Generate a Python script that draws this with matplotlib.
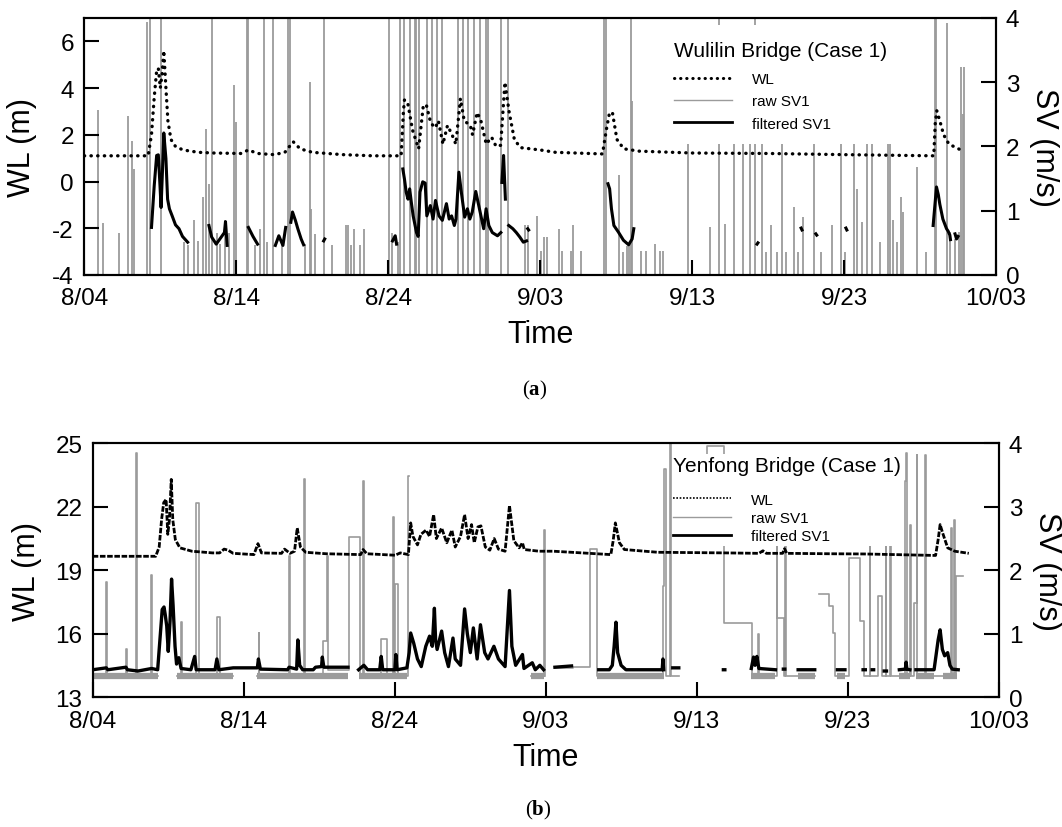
import numpy as np
import matplotlib.pyplot as plt
from matplotlib.patches import Rectangle
from matplotlib.lines import Line2D

plt.rcParams['font.family'] = ['Liberation Sans', 'DejaVu Sans']
plt.rcParams['axes.unicode_minus'] = False
plt.rcParams['mathtext.fontset'] = 'custom'
plt.rcParams['mathtext.rm'] = 'Liberation Serif'
plt.rcParams['mathtext.bf'] = 'Liberation Serif:bold'

nan = np.nan

# x axis in days after 8/04
tick_days = [0, 10, 20, 30, 40, 50, 60]
tick_labels = ['8/04', '8/14', '8/24', '9/03', '9/13', '9/23', '10/03']

# ---------------- (a) Wulilin Bridge ----------------
wl_a = [(0, 1.1), (4.2, 1.1), (4.42, 2.0), (4.6, 3.6), (4.76, 4.75), (4.87, 4.85), (5.0, 4.0),
        (5.12, 4.6), (5.23, 5.6), (5.37, 4.0), (5.5, 2.6), (5.7, 1.8), (6.0, 1.5), (6.5, 1.35),
        (7.5, 1.25), (8.5, 1.22), (10.3, 1.2), (10.8, 1.35), (11.4, 1.2), (12.5, 1.15), (13.2, 1.25),
        (13.5, 1.5), (13.75, 1.7), (14.2, 1.4), (15.0, 1.25), (17.0, 1.15), (19.0, 1.1), (20.85, 1.1),
        (21.0, 3.0), (21.07, 3.5), (21.3, 3.3), (21.6, 2.2), (22.0, 1.4), (22.3, 3.2), (22.5, 3.3),
        (22.8, 2.5), (23.1, 2.3), (23.3, 2.6), (23.6, 1.6), (23.9, 2.4), (24.2, 2.0), (24.45, 1.6),
        (24.75, 3.55), (25.0, 2.6), (25.4, 2.4), (25.55, 2.0), (25.85, 2.95), (26.1, 2.6), (26.45, 1.6),
        (26.8, 1.9), (27.1, 1.5), (27.4, 1.55), (27.68, 4.25), (27.95, 3.0), (28.3, 1.8), (28.7, 1.45),
        (30.0, 1.35), (31.0, 1.25), (34.1, 1.18), (34.35, 2.2), (34.55, 2.9), (34.75, 2.97), (35.05, 1.8),
        (35.5, 1.4), (36.5, 1.3), (40.0, 1.22), (45.0, 1.2), (50.0, 1.15), (55.9, 1.1), (56.0, 2.5),
        (56.1, 3.03), (56.3, 2.6), (56.55, 2.0), (56.9, 1.6), (57.9, 1.28)]

filt_a = [(4.42, 0.74), (4.6, 1.39), (4.76, 1.86), (4.87, 1.87), (4.98, 1.39), (5.05, 1.05), (5.14, 1.6),
          (5.23, 2.21), (5.37, 1.81), (5.48, 1.18), (5.6, 1.03), (5.78, 0.92), (6.0, 0.78), (6.23, 0.72),
          (6.46, 0.6), (6.8, 0.51), (nan, nan),
          (8.2, 0.77), (8.38, 0.59), (8.68, 0.48), (8.95, 0.57), (9.22, 0.66), (9.29, 0.83), (9.4, 0.46), (nan, nan),
          (10.8, 0.74), (11.1, 0.6), (11.4, 0.48), (nan, nan),
          (12.57, 0.46), (12.8, 0.61), (13.07, 0.46), (13.25, 0.74), (nan, nan),
          (13.59, 0.82), (13.7, 0.98), (13.89, 0.85), (14.05, 0.72), (14.27, 0.56), (14.43, 0.47), (nan, nan),
          (15.75, 0.53), (15.82, 0.56), (nan, nan),
          (20.28, 0.53), (20.46, 0.61), (20.55, 0.48), (nan, nan),
          (20.96, 1.65), (21.07, 1.49), (21.18, 1.29), (21.3, 1.18), (21.41, 1.34), (21.52, 1.13), (21.64, 0.92),
          (21.86, 0.66), (21.97, 0.6), (22.09, 1.29), (22.27, 1.45), (22.43, 1.43), (22.54, 0.92), (22.77, 1.08),
          (22.95, 0.87), (23.11, 1.16), (23.34, 0.92), (23.56, 0.85), (23.83, 1.11), (24.01, 0.87), (24.17, 0.92),
          (24.35, 0.77), (24.46, 0.87), (24.65, 1.6), (24.81, 1.29), (25.03, 0.9), (25.21, 1.03), (25.37, 0.87),
          (25.53, 0.98), (25.76, 1.3), (26.05, 0.98), (26.28, 0.72), (26.44, 1.03), (26.62, 0.77), (26.85, 0.66),
          (27.19, 0.61), (27.41, 0.66), (nan, nan),
          (27.48, 1.44), (27.59, 1.86), (27.71, 1.18), (nan, nan),
          (27.93, 0.77), (28.2, 0.72), (28.43, 0.66), (28.66, 0.59), (28.89, 0.51), (29.1, 0.53), (nan, nan),
          (29.18, 0.72), (29.24, 0.7), (nan, nan),
          (34.46, 1.42), (34.57, 1.34), (34.69, 1.03), (34.85, 0.77), (35.14, 0.67), (35.48, 0.54), (35.82, 0.47),
          (36.05, 0.56), (36.16, 0.72), (nan, nan),
          (44.27, 0.48), (44.33, 0.5), (nan, nan), (47.17, 0.73), (47.23, 0.7), (nan, nan),
          (48.14, 0.64), (48.2, 0.62), (nan, nan), (50.12, 0.73), (50.18, 0.7), (nan, nan),
          (55.86, 0.77), (56.08, 1.37), (56.2, 1.25), (56.3, 1.1), (56.5, 0.87), (56.74, 0.72), (56.85, 0.68),
          (56.96, 0.62), (57.0, 0.55), (nan, nan),
          (57.3, 0.64), (57.4, 0.56), (57.5, 0.6)]

# raw SV1 spikes (day, peak value); values above 4 run off the top
raw_a = [(0.91, 2.56), (1.25, 0.81), (2.27, 0.66), (2.88, 2.47), (3.13, 2.09), (3.24, 1.65), (4.15, 3.93),
         (4.31, 4.5), (5.05, 4.5), (6.57, 0.51), (6.8, 0.46), (7.25, 0.85), (7.48, 0.53), (7.82, 1.21),
         (8.0, 2.27), (8.22, 1.42), (8.38, 4.5), (8.72, 0.66), (8.95, 0.48), (9.29, 0.85), (9.51, 0.66),
         (9.86, 2.95), (9.97, 2.38), (10.72, 4.5), (10.8, 4.5), (11.21, 0.46), (11.55, 0.72), (11.85, 4.5),
         (12.0, 0.51), (12.42, 4.5), (13.03, 0.51), (13.43, 4.5), (13.55, 4.5), (14.5, 0.48), (14.84, 3.0),
         (14.95, 1.03), (15.18, 0.64), (15.75, 4.5), (16.31, 0.46), (17.22, 0.77), (17.33, 0.77),
         (17.56, 0.46), (17.78, 0.72), (18.12, 0.46), (18.42, 0.72), (20.05, 4.5), (20.28, 0.66),
         (20.62, 0.51), (20.78, 4.5), (21.07, 4.5), (21.41, 4.5), (21.75, 4.5), (21.86, 4.5), (22.04, 4.5),
         (22.55, 4.5), (22.89, 4.5), (23.23, 4.5), (23.56, 4.5), (24.58, 4.5), (24.92, 4.5), (25.26, 4.5),
         (25.67, 4.5), (26.01, 4.5), (26.46, 4.5), (26.57, 4.5), (27.41, 4.5), (27.87, 4.5), (29.0, 0.77),
         (29.23, 0.77), (29.8, 0.92), (30.07, 0.38), (30.25, 0.59), (30.48, 0.59), (31.21, 0.72),
         (31.46, 0.38), (32.03, 0.38), (32.19, 0.78), (32.71, 0.38), (34.19, 4.5), (34.35, 4.5),
         (35.21, 1.55), (35.48, 0.35), (35.7, 0.45), (35.85, 0.5), (35.98, 4.5), (36.05, 2.7), (36.62, 0.38),
         (36.96, 0.38), (37.58, 0.48), (37.87, 0.38), (38.1, 0.38), (39.76, 3.5), (41.17, 0.74),
         (41.74, 4.5), (42.19, 0.8), (42.76, 3.5), (43.33, 3.5), (43.78, 3.5), (44.13, 4.5), (44.58, 3.5),
         (44.85, 0.35), (45.22, 0.77), (45.6, 0.35), (45.94, 3.5), (46.17, 0.35), (46.7, 1.06), (46.97, 0.35),
         (47.31, 0.9), (48.0, 3.5), (48.45, 0.35), (49.2, 0.78), (49.81, 3.5), (50.08, 0.35), (50.67, 3.5),
         (50.83, 1.34), (51.17, 0.82), (51.52, 3.5), (51.86, 3.5), (52.38, 0.51), (52.88, 3.5), (52.99, 3.5),
         (53.22, 0.85), (53.45, 0.51), (53.72, 1.21), (53.9, 0.98), (54.77, 1.68), (55.38, 0.35),
         (55.95, 4.5), (56.07, 4.5), (56.75, 3.92), (56.97, 0.67), (57.3, 0.56), (57.54, 0.67),
         (57.72, 3.24), (57.84, 2.5), (57.88, 3.24)]

# ---------------- (b) Yenfong Bridge ----------------
wl_b = [(0, 19.66), (4.17, 19.66), (4.4, 20.1), (4.56, 21.4), (4.7, 22.2), (4.86, 22.35), (4.97, 20.7),
        (5.08, 21.4), (5.2, 23.3), (5.3, 21.4), (5.47, 20.45), (5.77, 20.06), (6.57, 19.9), (7.93, 19.82),
        (8.4, 19.82), (8.7, 20.0), (8.96, 19.95), (9.3, 19.8), (10.67, 19.74), (10.94, 20.26), (11.17, 19.82),
        (12.5, 19.8), (12.7, 20.0), (13.06, 19.8), (13.36, 19.9), (13.54, 21.0), (13.75, 20.1), (14.1, 19.85),
        (15.46, 19.78), (17.74, 19.74), (17.9, 19.98), (18.15, 19.78), (20.02, 19.71), (20.36, 19.82),
        (20.9, 19.74), (21.05, 21.24), (21.2, 20.6), (21.5, 20.2), (21.73, 20.7), (22.07, 20.9), (22.3, 20.6),
        (22.57, 21.63), (22.75, 20.5), (23.1, 21.0), (23.44, 20.3), (23.78, 20.9), (24.0, 20.1), (24.35, 20.6),
        (24.62, 21.63), (24.85, 20.5), (25.08, 21.16), (25.26, 20.3), (25.5, 21.05), (25.7, 21.1), (25.99, 20.1),
        (26.29, 19.95), (26.58, 20.5), (26.86, 20.0), (27.3, 19.9), (27.59, 22.06), (27.88, 20.4), (28.23, 20.06),
        (28.45, 20.3), (28.57, 19.98), (29.55, 19.9), (30.5, 19.9), (34.3, 19.74), (34.45, 20.37), (34.6, 21.24),
        (34.87, 20.3), (35.2, 19.98), (37.4, 19.85), (41.96, 19.82), (44.1, 19.8), (44.37, 19.92), (44.6, 19.8),
        (45.67, 19.8), (45.8, 20.02), (45.95, 19.8), (48.8, 19.78), (51.1, 19.77), (55.8, 19.7), (55.97, 20.45),
        (56.1, 21.16), (56.27, 20.76), (56.6, 20.06), (57.07, 19.9), (58.0, 19.8)]

filt_b = [(0, 0.43), (0.9, 0.46), (1.0, 0.43), (2.2, 0.47), (2.3, 0.43), (3.0, 0.41), (3.9, 0.45), (4.3, 0.43),
          (4.45, 0.9), (4.6, 1.38), (4.72, 1.42), (4.8, 1.3), (4.9, 1.12), (5.0, 0.72), (5.12, 1.2), (5.22, 1.86),
          (5.32, 1.45), (5.45, 0.8), (5.55, 0.52), (5.7, 0.62), (5.85, 0.45), (6.5, 0.43), (6.75, 0.64),
          (6.85, 0.43), (8.1, 0.43), (8.22, 0.6), (8.35, 0.43), (9.3, 0.46), (10.9, 0.46), (10.97, 0.6),
          (11.1, 0.44), (12.9, 0.43), (13.0, 0.47), (13.5, 0.44), (13.58, 0.9), (13.7, 0.5), (13.9, 0.43),
          (14.6, 0.43), (14.75, 0.47), (15.15, 0.48), (15.2, 0.63), (15.3, 0.47), (16.9, 0.47), (nan, nan),
          (17.6, 0.43), (17.95, 0.5), (18.2, 0.43), (19.0, 0.43), (19.1, 0.64), (19.2, 0.43), (20.0, 0.43),
          (20.07, 0.67), (20.15, 0.43), (20.8, 0.46), (20.95, 0.7), (21.05, 1.01), (21.25, 0.85), (21.5, 0.6),
          (21.75, 0.48), (22.05, 0.8), (22.3, 0.96), (22.48, 0.8), (22.62, 1.4), (22.7, 0.9), (22.8, 0.75),
          (23.1, 1.04), (23.3, 0.7), (23.55, 0.48), (23.85, 0.93), (24.0, 0.6), (24.35, 0.5), (24.62, 1.39),
          (24.8, 1.0), (25.0, 0.7), (25.2, 1.09), (25.45, 0.6), (25.67, 1.14), (25.95, 0.7), (26.17, 0.6),
          (26.56, 0.8), (26.86, 0.6), (27.3, 0.48), (27.59, 1.68), (27.75, 0.8), (28.0, 0.5), (28.45, 0.67),
          (28.55, 0.45), (29.1, 0.54), (29.3, 0.43), (29.6, 0.5), (29.85, 0.43), (nan, nan),
          (30.6, 0.47), (31.7, 0.49), (nan, nan),
          (33.5, 0.43), (34.2, 0.43), (34.4, 0.5), (34.52, 0.8), (34.64, 1.18), (34.75, 0.7), (34.98, 0.5),
          (35.3, 0.43), (37.7, 0.43), (37.75, 0.6), (37.8, 0.43), (nan, nan),
          (38.4, 0.46), (38.8, 0.46), (nan, nan), (41.75, 0.43), (41.85, 0.43), (nan, nan),
          (43.6, 0.45), (43.75, 0.63), (43.85, 0.5), (43.97, 0.64), (44.1, 0.45), (45.2, 0.43), (nan, nan),
          (45.72, 0.44), (45.82, 0.44), (nan, nan), (46.7, 0.43), (47.8, 0.43), (nan, nan),
          (49.3, 0.43), (49.8, 0.43), (nan, nan), (51.0, 0.43), (51.15, 0.43), (nan, nan),
          (51.6, 0.43), (51.7, 0.43), (nan, nan), (52.4, 0.41), (52.55, 0.41), (nan, nan),
          (53.4, 0.43), (53.8, 0.44), (53.85, 0.55), (53.9, 0.44), (54.1, 0.43), (nan, nan),
          (54.5, 0.43), (55.7, 0.43), (55.8, 0.6), (55.97, 0.9), (56.1, 1.06), (56.25, 0.75), (56.4, 0.65),
          (56.6, 0.7), (56.75, 0.5), (56.9, 0.44), (57.3, 0.43)]

# raw SV1, read as a held (step) signal: (day, value from that day on)
raw_b = [(0, 0.33), (0.86, 1.81), (0.92, 0.33), (2.22, 0.76), (2.28, 0.33), (2.88, 3.85), (2.94, 0.33),
         (3.88, 1.92), (3.94, 0.33), (4.3, nan), (5.6, 0.33), (5.87, 1.18), (5.93, 0.33), (6.84, 3.06),
         (7.06, 0.33), (8.21, 1.27), (8.43, 0.33), (9.3, nan), (10.9, 0.33), (10.98, 1.01), (11.04, 0.33),
         (12.98, 2.23), (13.04, 0.33), (13.98, 3.44), (14.04, 0.33), (15.23, 0.88), (15.54, 2.23),
         (15.6, 0.43), (16.95, 2.52), (17.7, 0.33), (17.9, 3.41), (17.96, 0.33), (19.1, 0.91), (19.5, 0.33),
         (19.88, 2.84), (19.94, 0.33), (20.02, 1.78), (20.2, 0.33), (20.9, 3.49), (20.96, nan), (29.0, 0.33),
         (29.88, 2.64), (29.93, 0.33), (29.95, nan), (30.6, 0.45), (31.8, 0.47), (32.9, 2.33), (33.4, 0.33),
         (37.77, 1.75), (37.85, 3.59), (37.92, 0.33), (38.2, 4.5), (38.26, 0.33), (38.8, nan), (39.05, 3.0),
         (40.66, 3.96), (41.8, 1.17), (43.64, 0.33), (44.05, 0.99), (44.11, 0.33), (45.28, 3.0), (45.32, 1.25),
         (45.74, 0.33), (45.85, 3.0), (45.9, 0.33), (47.83, nan), (48.06, 1.63), (48.72, 1.43), (49.0, 1.01),
         (49.16, 0.33), (50.1, 2.2), (50.8, 1.2), (51.04, 0.33), (51.43, 3.0), (51.48, 0.33), (52.0, 1.59),
         (52.25, 0.33), (52.5, 3.0), (52.55, 0.33), (52.8, 3.0), (52.85, 0.33), (53.8, 3.41), (53.86, 3.85),
         (53.92, 0.33), (54.1, 2.72), (54.16, 0.33), (54.35, 1.49), (54.55, 3.82), (54.6, 0.33), (55.12, 3.82),
         (55.18, 0.33), (56.82, 2.67), (56.88, 0.33), (57.05, 2.8), (57.1, 0.33), (57.17, 1.91), (57.6, 1.91)]

# stretches where the noisy raw record shows as a grey band under the filtered line
band_b = [(0, 4.3), (5.6, 9.3), (10.9, 16.9), (17.6, 20.8), (29.0, 29.85), (33.4, 37.8), (43.6, 45.2),
          (46.7, 47.8), (49.3, 49.8), (53.4, 54.1), (54.5, 55.7), (56.3, 57.2)]


def xy(pairs):
    a = np.array(pairs, dtype=float)
    return a[:, 0], a[:, 1]


GRAY = '#9b9b9b'

fig = plt.figure(figsize=(10.62, 8.28), dpi=100)


def make_panel(rect, wl_lim, wl_ticks):
    ax1 = fig.add_axes(rect)
    ax2 = ax1.twinx()
    ax1.set_zorder(ax2.get_zorder() + 1)
    ax1.patch.set_visible(False)
    ax1.set_xlim(0, 60)
    ax1.set_ylim(*wl_lim)
    ax1.set_yticks(wl_ticks)
    ax1.set_xticks(tick_days)
    ax1.set_xticklabels(tick_labels)
    ax2.set_ylim(0, 4)
    ax2.set_yticks([0, 1, 2, 3, 4])
    for ax in (ax1, ax2):
        ax.tick_params(direction='in', length=10.5, width=1.5, labelsize=17.5)
        for s in ax.spines.values():
            s.set_linewidth(1.5)
    ax1.tick_params(axis='x', pad=9)
    ax1.tick_params(axis='y', pad=7.5)
    ax2.tick_params(axis='y', pad=7)
    ax1.set_xlabel('Time', fontsize=22, va='center')
    ax1.set_ylabel('WL (m)', fontsize=22, va='center')
    ax2.set_ylabel('SV (m/s)', fontsize=22, rotation=270, va='center')
    return ax1, ax2


def add_key(ax, handles, title, x, title_y, top, spacing):
    ax.text(x, title_y, title, transform=ax.transAxes, fontsize=15, ha='left', va='center', zorder=6)
    ax.legend(handles, ['WL', 'raw SV1', 'filtered SV1'], loc='upper left', bbox_to_anchor=(x, top),
              frameon=False, fontsize=11, handlelength=3.8, handletextpad=1.3, labelspacing=spacing,
              borderpad=0, borderaxespad=0)


# ---- panel (a)
a1, a2 = make_panel([0.0794, 0.6667, 0.8585, 0.3104], (-4, 7), [-4, -2, 0, 2, 4, 6])
d, v = xy(raw_a)
a2.vlines(d, 0, v, color=GRAY, lw=1.3, zorder=1)
d, v = xy(filt_a)
a2.plot(d, v, color='black', lw=2.2, zorder=3)
d, v = xy(wl_a)
a1.plot(d, v, color='black', lw=2.4, linestyle=(0, (0.1, 1.9)), dash_capstyle='round', zorder=2)
a1.xaxis.set_label_coords(0.5, -0.23)
a1.yaxis.set_label_coords(-0.068, 0.5)
a2.yaxis.set_label_coords(1.0527, 0.5)
a1.add_patch(Rectangle((0.641, 0.51), 0.244, 0.463, transform=a1.transAxes,
                       facecolor='white', edgecolor='none', zorder=4))
hs = [Line2D([], [], color='black', lw=2.2, linestyle=(0, (0.1, 1.9)), dash_capstyle='round'),
      Line2D([], [], color=GRAY, lw=1.0),
      Line2D([], [], color='black', lw=2.0)]
add_key(a1, hs, 'Wulilin Bridge (Case 1)', 0.6466, 0.8716, 0.7895, 0.54)

# ---- panel (b)
b1, b2 = make_panel([0.0873, 0.1570, 0.8534, 0.3062], (13, 25), [13, 16, 19, 22, 25])
for s, e in band_b:
    b2.plot([s, e], [0.335, 0.335], color=GRAY, lw=4.5, solid_capstyle='butt', zorder=1)
d, v = xy(raw_b)
b2.plot(d, v, color=GRAY, lw=1.2, drawstyle='steps-post', zorder=1)
d, v = xy(filt_b)
b2.plot(d, v, color='black', lw=2.4, zorder=3)
d, v = xy(wl_b)
b1.plot(d, v, color='black', lw=2.0, linestyle=(0, (2.0, 0.6)), zorder=2)
b1.xaxis.set_label_coords(0.5, -0.238)
b1.yaxis.set_label_coords(-0.072, 0.5)
b2.yaxis.set_label_coords(1.053, 0.5)
b1.add_patch(Rectangle((0.639, 0.595), 0.254, 0.363, transform=b1.transAxes,
                       facecolor='white', edgecolor='none', zorder=4))
hs = [Line2D([], [], color='black', lw=1.2, linestyle=(0, (1, 1))),
      Line2D([], [], color=GRAY, lw=1.0),
      Line2D([], [], color='black', lw=2.0)]
add_key(b1, hs, 'Yenfong Bridge (Case 1)', 0.6406, 0.9124, 0.8055, 0.28)

fig.text(0.5038, 0.529, r'($\mathbf{a}$)', fontsize=15, family='Liberation Serif', ha='center', va='center')
fig.text(0.5066, 0.0217, r'($\mathbf{b}$)', fontsize=15, family='Liberation Serif', ha='center', va='center')

fig.savefig('out.png', dpi=100)
